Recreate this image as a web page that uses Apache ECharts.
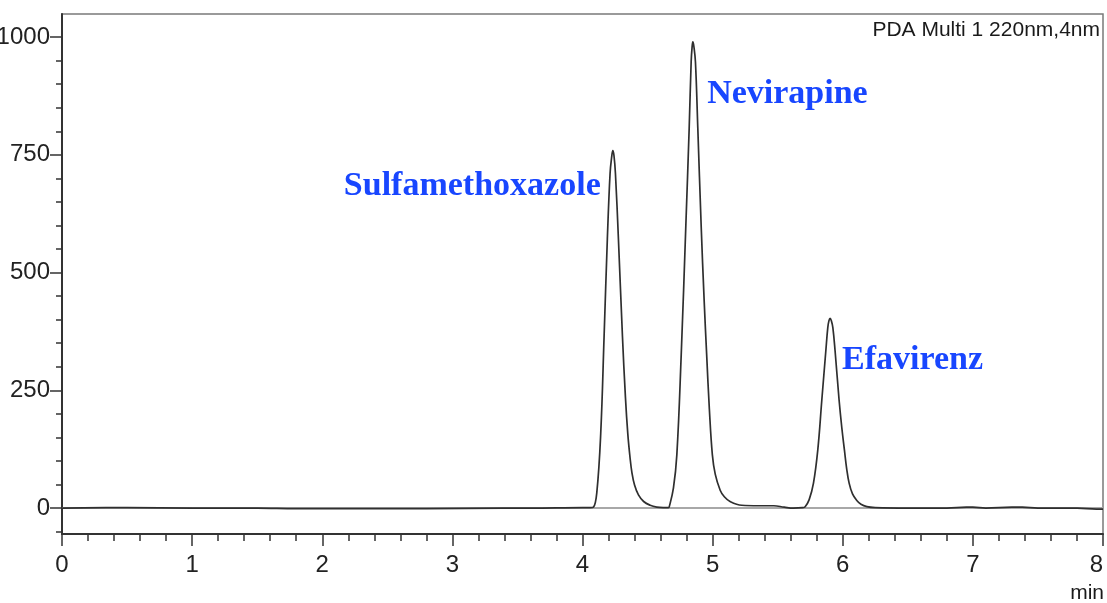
<!DOCTYPE html>
<html>
<head>
<meta charset="utf-8">
<script src="https://cdn.jsdelivr.net/npm/echarts@6/dist/echarts.min.js"></script>
<style>
  html, body { margin: 0; padding: 0; background: #fff; }
  #chart { width: 1107px; height: 603px; }
</style>
</head>
<body>
<div id="chart"></div>
<script>
// Chromatogram, PDA detector at 220 nm: retention time (min) vs. response (mAU)
const traceTime = [
  0, 0.5, 1.0, 1.5, 1.8, 2.2, 2.8, 3.4, 3.6, 4.0, 4.06,
  4.084, 4.11, 4.14, 4.166, 4.191, 4.212, 4.224, 4.233, 4.242, 4.253, 4.276, 4.307, 4.33, 4.348, 4.365, 4.38, 4.40, 4.43, 4.47, 4.52, 4.571, 4.62, 4.66,
  4.666, 4.699, 4.725, 4.758, 4.794, 4.82, 4.835, 4.842, 4.848, 4.856, 4.868, 4.886, 4.912, 4.935, 4.955, 4.975, 4.998, 5.02, 5.058, 5.09, 5.134, 5.224, 5.35, 5.47, 5.55, 5.62, 5.69,
  5.711, 5.742, 5.775, 5.808, 5.839, 5.87, 5.885, 5.894, 5.903, 5.913, 5.924, 5.941, 5.972, 5.993, 6.013, 6.03, 6.049, 6.075, 6.108, 6.14, 6.185, 6.249,
  6.5, 6.8, 6.95, 7.0, 7.1, 7.3, 7.38, 7.5, 7.8, 7.95, 8.0
];
const traceSignal = [
  0, 1, 0, 0, -1, -1, -1, 0, 0, 1, 1,
  2, 33, 158, 365, 572, 711, 745, 759, 748, 711, 572, 365, 235, 158, 108, 75, 49, 28, 14, 6, 2, 1, 1,
  2, 43, 113, 321, 599, 808, 947, 978, 990, 980, 947, 808, 599, 440, 321, 210, 113, 72, 38, 24, 14, 6, 5, 5, 2, 0, 1,
  3, 18, 53, 123, 229, 334, 383, 398, 403, 397, 383, 334, 229, 170, 123, 84, 53, 30, 16, 8, 3, 1,
  0, 0, 2, 2, 0, 2, 2, 0, 0, -2, -2
];

// Peak names and where each name sits (time, response)
const peakNames = ['Sulfamethoxazole', 'Nevirapine', 'Efavirenz'];
const peakLabelAt = [[4.14, 683], [4.958, 878], [5.995, 314]];
const peakLabelAlign = ['right', 'left', 'left'];

const yMajorTicks = [0, 250, 500, 750, 1000];
const yMinorTicks = [-50, 50, 100, 150, 200, 300, 350, 400, 450, 550, 600, 650, 700, 800, 850, 900, 950];
const yRange = [-55, 1049];
const xRange = [0, 8];
const detectorTitle = 'PDA Multi 1 220nm,4nm';
const timeUnit = 'min';

const axisFont = 'Liberation Sans, Arial, sans-serif';
const labelBlue = '#1846ff';

const chart = echarts.init(document.getElementById('chart'), null, { renderer: 'canvas' });

const points = traceTime.map((t, i) => [t, traceSignal[i]]);

chart.setOption({
  animation: false,
  backgroundColor: '#ffffff',
  grid: {
    left: 62, right: 4, top: 14, bottom: 69,
    containLabel: false, outerBoundsMode: 'none',
    show: true, borderColor: '#7a7a7a', borderWidth: 1.5, backgroundColor: 'transparent'
  },
  xAxis: {
    type: 'value', min: xRange[0], max: xRange[1], interval: 1,
    axisLine: { show: true, onZero: false, lineStyle: { color: '#333', width: 2 } },
    axisTick: { show: true, inside: false, length: 12, lineStyle: { color: '#333', width: 1.5 } },
    minorTick: { show: true, splitNumber: 5, length: 7, lineStyle: { color: '#333', width: 1.5 } },
    splitLine: { show: false },
    axisLabel: { margin: 19, color: '#222', fontSize: 24, fontFamily: axisFont, alignMaxLabel: 'right' }
  },
  yAxis: [
    {
      type: 'value', min: yRange[0], max: yRange[1],
      axisLine: { show: true, onZero: false, lineStyle: { color: '#333', width: 2 } },
      axisTick: { show: true, inside: false, length: 12, customValues: yMajorTicks, lineStyle: { color: '#333', width: 1.5 } },
      splitLine: { show: false },
      axisLabel: {
        margin: 12, color: '#222', fontSize: 24, fontFamily: axisFont, customValues: yMajorTicks,
        formatter: (v) => String(v)
      }
    },
    {
      type: 'value', min: yRange[0], max: yRange[1], position: 'left',
      axisLine: { show: false, onZero: false },
      axisTick: { show: true, inside: false, length: 6, customValues: yMinorTicks, lineStyle: { color: '#333', width: 1.5 } },
      splitLine: { show: false },
      axisLabel: { show: false }
    }
  ],
  series: [
    {
      type: 'line',
      data: points,
      xAxisIndex: 0, yAxisIndex: 0,
      showSymbol: false,
      smooth: 0.4,
      lineStyle: { color: '#2f2f2f', width: 1.7 },
      z: 3,
      markLine: {
        silent: true,
        symbol: 'none',
        label: { show: false },
        lineStyle: { color: '#a8a8a8', width: 2, type: 'solid' },
        data: [{ yAxis: 0 }],
        z: 2
      }
    }
  ]
});

// Peak names and header texts placed through the chart's own coordinate system
const nameTexts = peakNames.map((name, i) => {
  const p = chart.convertToPixel({ xAxisIndex: 0, yAxisIndex: 0 }, peakLabelAt[i]);
  return {
    type: 'text', x: p[0], y: p[1], z: 10,
    style: {
      text: name, fill: labelBlue, align: peakLabelAlign[i], verticalAlign: 'middle',
      font: 'bold 34px "Liberation Serif", "Times New Roman", serif'
    }
  };
});

chart.setOption({
  graphic: nameTexts.concat([
    {
      type: 'text', right: 7, top: 20, z: 10,
      style: { text: detectorTitle, fill: '#1a1a1a', font: '21px ' + axisFont }
    },
    {
      type: 'text', right: 3, top: 583, z: 10,
      style: { text: timeUnit, fill: '#1a1a1a', font: '21px ' + axisFont }
    }
  ])
});
</script>
</body>
</html>
